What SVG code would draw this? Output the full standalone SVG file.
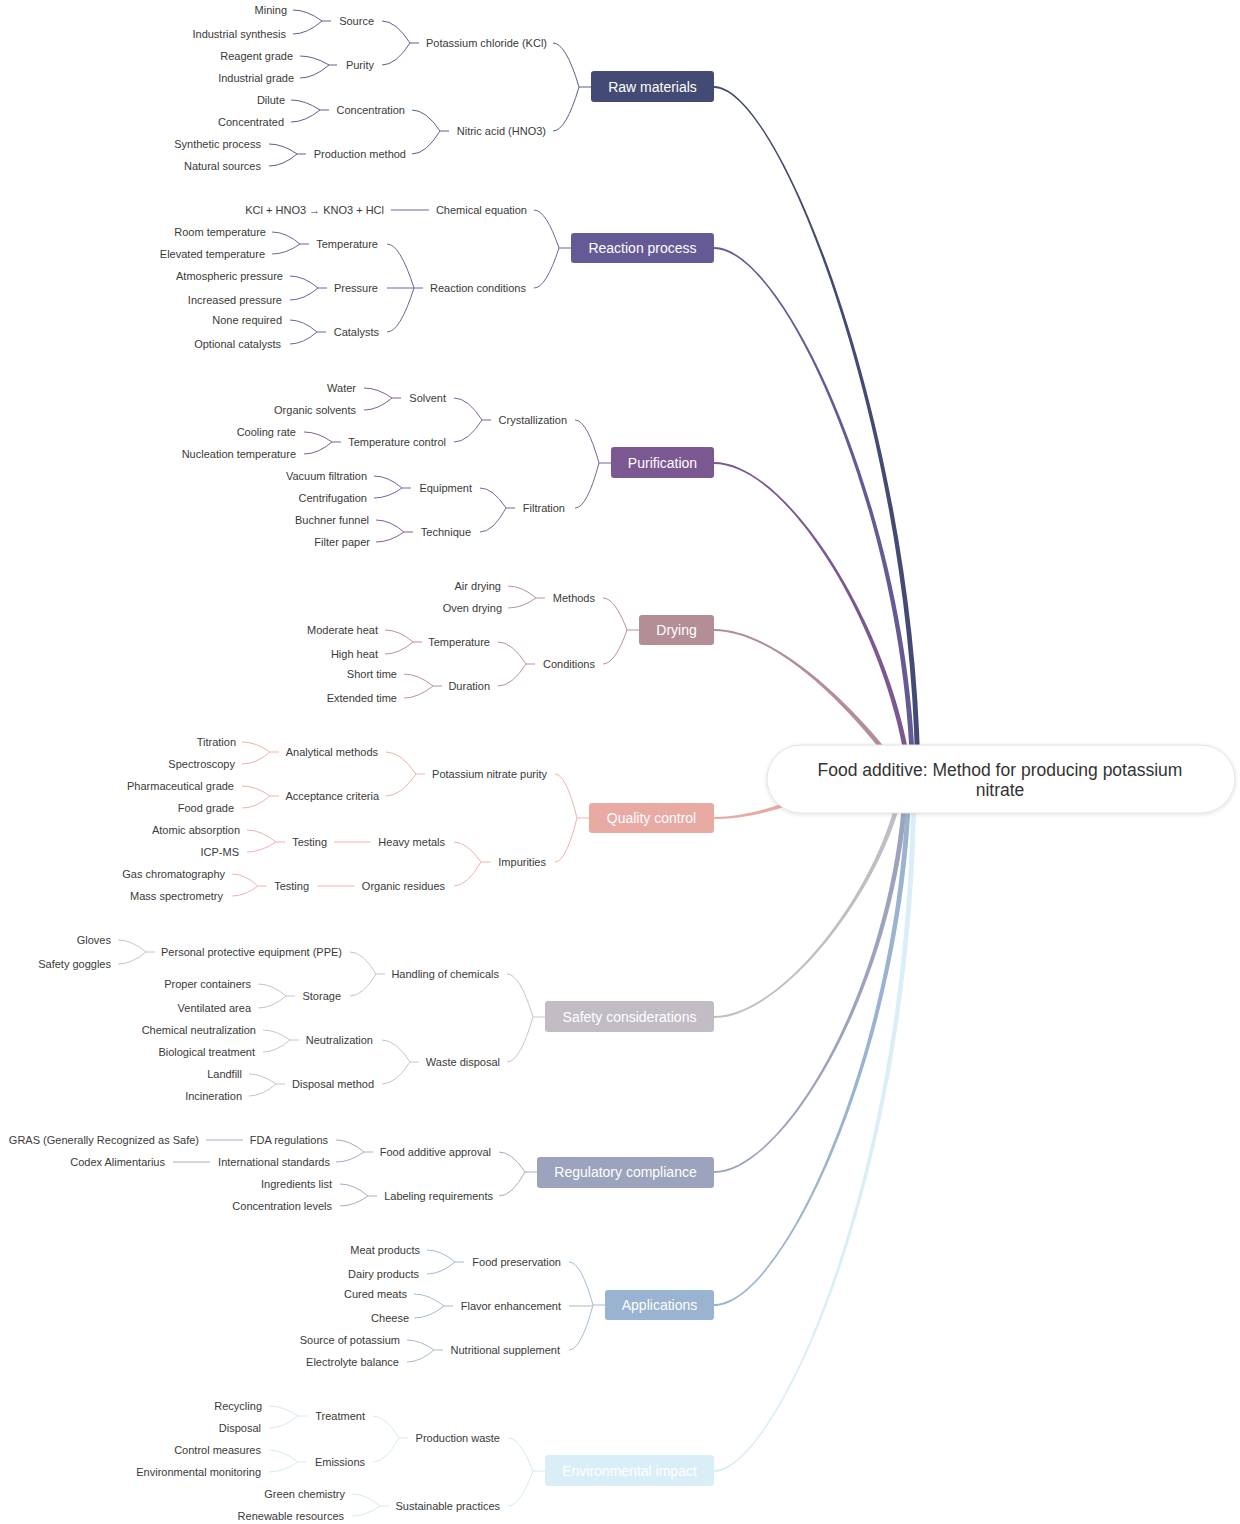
<svg xmlns="http://www.w3.org/2000/svg" width="1240" height="1524" viewBox="0 0 1240 1524">
<defs>
<style>
.t{font-family:"Liberation Sans",Arial,sans-serif;font-size:11px;fill:#3a3a3a;text-anchor:end}
.h{font-family:"Liberation Sans",Arial,sans-serif;font-size:14px;fill:#fff;text-anchor:middle}
.r{font-family:"Liberation Sans",Arial,sans-serif;font-size:17.5px;fill:#333;text-anchor:middle}
.ln path{fill:none;stroke-width:1}
.s1{stroke:#5b6090}.s2{stroke:#6f64a0}.s3{stroke:#80609a}.s4{stroke:#b9939c}.s5{stroke:#f0b3ad}
.s6{stroke:#c8c4cb}.s7{stroke:#a6acc5}.s8{stroke:#a3bbd6}.s9{stroke:#d6eaf4}
</style>
<filter id="sh" x="-10%" y="-30%" width="120%" height="160%">
<feDropShadow dx="0" dy="1" stdDeviation="2" flood-color="#000" flood-opacity="0.12"/>
</filter>
</defs>
<rect width="1240" height="1524" fill="#fff"/>
<g id="connectors">
<g id="root-links">
<path fill="#434a73" d="M714 86C780 86 916.5 433 920.5 779L915.5 779C911.5 433 780 88 714 88Z"/>
<path fill="#655a96" d="M714 247C785 247 910.5 520 915.5 779L910.5 779C905.5 520 785 249 714 249Z"/>
<path fill="#7c5893" d="M714 462C790 462 897.5 640 912.5 779L907.5 779C892.5 640 790 464 714 464Z"/>
<path fill="#b38e97" d="M714 629C780 629 867.5 719 907.5 778L902.5 780C862.5 721 780 631 714 631Z"/>
<path fill="#e9aaa4" d="M714 817C750 817 790 803 830 782L830 788C790 808 750 819 714 819Z"/>
<path fill="#c2bdc5" d="M714 1018C785 1018 890.5 880 905.5 779L900.5 779C885.5 880 785 1016 714 1016Z"/>
<path fill="#9ca3bd" d="M714 1173C785 1173 900.5 980 908.5 779L903.5 779C895.5 980 785 1171 714 1171Z"/>
<path fill="#99b3d0" d="M714 1306C785 1306 906.5 1040 911.5 779L906.5 779C901.5 1040 785 1304 714 1304Z"/>
<path fill="#daeef7" d="M714 1472C775 1472 914.5 1180 916.5 779L911.5 779C909.5 1180 775 1470 714 1470Z"/>
</g>
<g class="ln">
<path class="s1" d="M553 43Q566 43 579 87M553 131Q566 131 579 87M579 87H591"/>
<path class="s1" d="M382 21Q396 21 410 43M382 65Q396 65 410 43M410 43H419"/>
<path class="s1" d="M293 10Q307 10 322 21M293 34Q307 34 322 21M322 21H331"/>
<path class="s1" d="M300 56Q314 56 329 65M300 78Q314 78 329 65M329 65H337"/>
<path class="s1" d="M412 110Q426 110 440 131M412 154Q426 154 440 131M440 131H449"/>
<path class="s1" d="M291 100Q305 100 320 110M291 122Q305 122 320 110M320 110H329"/>
<path class="s1" d="M269 144Q283 144 297 154M269 166Q283 166 297 154M297 154H306"/>

<path class="s2" d="M534 210Q546 210 559 248M534 288Q546 288 559 248M559 248H571"/>
<path class="s2" d="M391 210H429"/>
<path class="s2" d="M387 244Q400 244 414 288M387 288H414M387 332Q400 332 414 288M414 288H423"/>
<path class="s2" d="M272 232Q286 232 300 244M272 254Q286 254 300 244M300 244H309"/>
<path class="s2" d="M290 276Q304 276 318 288M290 300Q304 300 318 288M318 288H327"/>
<path class="s2" d="M290 320Q303 320 317 332M290 344Q303 344 317 332M317 332H326"/>

<path class="s3" d="M575 420Q587 420 599 463M575 508Q587 508 599 463M599 463H611"/>
<path class="s3" d="M454 398Q468 398 482 420M454 442Q468 442 482 420M482 420H491"/>
<path class="s3" d="M364 388Q378 388 392 398M364 410Q378 410 392 398M392 398H401"/>
<path class="s3" d="M304 432Q318 432 332 442M304 454Q318 454 332 442M332 442H341"/>
<path class="s3" d="M480 488Q493 488 506 508M480 532Q493 532 506 508M506 508H515"/>
<path class="s3" d="M374 476Q388 476 402 488M374 498Q388 498 402 488M402 488H411"/>
<path class="s3" d="M376 520Q390 520 404 532M376 542Q390 542 404 532M404 532H413"/>

<path class="s4" d="M603 598Q615 598 627 630M603 664Q615 664 627 630M627 630H639"/>
<path class="s4" d="M508 586Q522 586 536 598M508 608Q522 608 536 598M536 598H545"/>
<path class="s4" d="M498 642Q512 642 526 664M498 686Q512 686 526 664M526 664H535"/>
<path class="s4" d="M385 630Q399 630 413 642M385 654Q399 654 413 642M413 642H422"/>
<path class="s4" d="M404 674Q418 674 433 686M404 698Q418 698 433 686M433 686H442"/>

<path class="s5" d="M555 774Q566 774 577 818M555 862Q566 862 577 818M577 818H589"/>
<path class="s5" d="M386 752Q401 752 416 774M386 796Q401 796 416 774M416 774H425"/>
<path class="s5" d="M242 742Q256 742 270 752M242 764Q256 764 270 752M270 752H279"/>
<path class="s5" d="M242 786Q256 786 270 796M242 808Q256 808 270 796M270 796H279"/>
<path class="s5" d="M454 842Q467 842 481 862M454 886Q467 886 481 862M481 862H491"/>
<path class="s5" d="M334 842H371"/>
<path class="s5" d="M247 830Q261 830 276 842M247 852Q261 852 276 842M276 842H285"/>
<path class="s5" d="M317 886H355"/>
<path class="s5" d="M232 874Q245 874 258 886M232 896Q245 896 258 886M258 886H267"/>

<path class="s6" d="M507 974Q520 974 533 1017M507 1062Q520 1062 533 1017M533 1017H545"/>
<path class="s6" d="M350 952Q363 952 376 974M350 996Q363 996 376 974M376 974H385"/>
<path class="s6" d="M118 940Q132 940 146 952M118 964Q132 964 146 952M146 952H155"/>
<path class="s6" d="M258 984Q272 984 286 996M258 1008Q272 1008 286 996M286 996H295"/>
<path class="s6" d="M382 1040Q396 1040 410 1062M382 1084Q396 1084 410 1062M410 1062H419"/>
<path class="s6" d="M263 1030Q276 1030 290 1040M263 1052Q276 1052 290 1040M290 1040H299"/>
<path class="s6" d="M249 1074Q262 1074 276 1084M249 1096Q262 1096 276 1084M276 1084H285"/>

<path class="s7" d="M499 1152Q512 1152 525 1172M499 1196Q512 1196 525 1172M525 1172H537"/>
<path class="s7" d="M336 1140Q350 1140 364 1152M336 1162Q350 1162 364 1152M364 1152H373"/>
<path class="s7" d="M206 1140H243"/>
<path class="s7" d="M173 1162H210"/>
<path class="s7" d="M340 1184Q354 1184 368 1196M340 1206Q354 1206 368 1196M368 1196H377"/>

<path class="s8" d="M569 1262Q581 1262 593 1305M569 1306H593M569 1350Q581 1350 593 1305M593 1305H605"/>
<path class="s8" d="M427 1250Q441 1250 455 1262M427 1274Q441 1274 455 1262M455 1262H464"/>
<path class="s8" d="M414 1294Q429 1294 444 1306M414 1318Q429 1318 444 1306M444 1306H453"/>
<path class="s8" d="M407 1340Q420 1340 434 1350M407 1362Q420 1362 434 1350M434 1350H443"/>

<path class="s9" d="M508 1438Q520 1438 533 1471M508 1506Q520 1506 533 1471M533 1471H545"/>
<path class="s9" d="M373 1416Q386 1416 399 1438M373 1462Q386 1462 399 1438M399 1438H408"/>
<path class="s9" d="M269 1406Q283 1406 298 1416M269 1428Q283 1428 298 1416M298 1416H307"/>
<path class="s9" d="M269 1450Q283 1450 298 1462M269 1472Q283 1472 298 1462M298 1462H307"/>
<path class="s9" d="M352 1494Q366 1494 380 1506M352 1516Q366 1516 380 1506M380 1506H389"/>
</g>
</g>

<g id="root">
<rect x="767" y="745" width="468" height="68" rx="34" fill="#fff" stroke="#e2e2e2" filter="url(#sh)"/>
<text class="r" x="1000" y="776">Food additive: Method for producing potassium</text>
<text class="r" x="1000" y="796">nitrate</text>
</g>

<g id="n-raw"><rect x="591" y="71" width="123" height="31" rx="3" fill="#434a73"/><text class="h" x="652.5" y="92">Raw materials</text></g>
<g id="n-reaction"><rect x="571" y="233" width="143" height="30" rx="3" fill="#655a96"/><text class="h" x="642.5" y="253">Reaction process</text></g>
<g id="n-purification"><rect x="611" y="447" width="103" height="31" rx="3" fill="#7c5893"/><text class="h" x="662.5" y="468">Purification</text></g>
<g id="n-drying"><rect x="639" y="615" width="75" height="30" rx="3" fill="#b38e97"/><text class="h" x="676.5" y="635">Drying</text></g>
<g id="n-qc"><rect x="589" y="803" width="125" height="30" rx="3" fill="#e9aaa4"/><text class="h" x="651.5" y="823">Quality control</text></g>
<g id="n-safety"><rect x="545" y="1001" width="169" height="31" rx="3" fill="#c2bdc5"/><text class="h" x="629.5" y="1022">Safety considerations</text></g>
<g id="n-regulatory"><rect x="537" y="1157" width="177" height="31" rx="3" fill="#9ca3bd"/><text class="h" x="625.5" y="1177">Regulatory compliance</text></g>
<g id="n-applications"><rect x="605" y="1290" width="109" height="30" rx="3" fill="#99b3d0"/><text class="h" x="659.5" y="1310">Applications</text></g>
<g id="n-environmental"><rect x="545" y="1455" width="169" height="31" rx="3" fill="#daeef7"/><text class="h" x="629.5" y="1476">Environmental impact</text></g>

<g id="n-kcl"><text class="t" x="547" y="47">Potassium chloride (KCl)</text></g>
<g id="n-source"><text class="t" x="374" y="25">Source</text></g>
<g id="n-mining"><text class="t" x="287" y="14">Mining</text></g>
<g id="n-indsyn"><text class="t" x="286" y="38">Industrial synthesis</text></g>
<g id="n-purity"><text class="t" x="374" y="69">Purity</text></g>
<g id="n-reagent"><text class="t" x="293" y="60">Reagent grade</text></g>
<g id="n-indgrade"><text class="t" x="294" y="82">Industrial grade</text></g>
<g id="n-hno3"><text class="t" x="546" y="135">Nitric acid (HNO3)</text></g>
<g id="n-conc"><text class="t" x="405" y="114">Concentration</text></g>
<g id="n-dilute"><text class="t" x="285" y="104">Dilute</text></g>
<g id="n-concentrated"><text class="t" x="284" y="126">Concentrated</text></g>
<g id="n-prodmethod"><text class="t" x="406" y="158">Production method</text></g>
<g id="n-synth"><text class="t" x="261" y="148">Synthetic process</text></g>
<g id="n-natural"><text class="t" x="261" y="170">Natural sources</text></g>

<g id="n-chemeq"><text class="t" x="527" y="214">Chemical equation</text></g>
<g id="n-equation"><text class="t" x="384" y="214">KCl + HNO3 → KNO3 + HCl</text></g>
<g id="n-reactcond"><text class="t" x="526" y="292">Reaction conditions</text></g>
<g id="n-temp"><text class="t" x="378" y="248">Temperature</text></g>
<g id="n-room"><text class="t" x="266" y="236">Room temperature</text></g>
<g id="n-elevated"><text class="t" x="265" y="258">Elevated temperature</text></g>
<g id="n-pressure"><text class="t" x="378" y="292">Pressure</text></g>
<g id="n-atm"><text class="t" x="283" y="280">Atmospheric pressure</text></g>
<g id="n-incp"><text class="t" x="282" y="304">Increased pressure</text></g>
<g id="n-catalysts"><text class="t" x="379" y="336">Catalysts</text></g>
<g id="n-none"><text class="t" x="282" y="324">None required</text></g>
<g id="n-optional"><text class="t" x="281" y="348">Optional catalysts</text></g>

<g id="n-cryst"><text class="t" x="567" y="424">Crystallization</text></g>
<g id="n-solvent"><text class="t" x="446" y="402">Solvent</text></g>
<g id="n-water"><text class="t" x="356" y="392">Water</text></g>
<g id="n-orgsolv"><text class="t" x="356" y="414">Organic solvents</text></g>
<g id="n-tempctrl"><text class="t" x="446" y="446">Temperature control</text></g>
<g id="n-cooling"><text class="t" x="296" y="436">Cooling rate</text></g>
<g id="n-nucleation"><text class="t" x="296" y="458">Nucleation temperature</text></g>
<g id="n-filtration"><text class="t" x="565" y="512">Filtration</text></g>
<g id="n-equipment"><text class="t" x="472" y="492">Equipment</text></g>
<g id="n-vacuum"><text class="t" x="367" y="480">Vacuum filtration</text></g>
<g id="n-centrifugation"><text class="t" x="367" y="502">Centrifugation</text></g>
<g id="n-technique"><text class="t" x="471" y="536">Technique</text></g>
<g id="n-buchner"><text class="t" x="369" y="524">Buchner funnel</text></g>
<g id="n-filterpaper"><text class="t" x="370" y="546">Filter paper</text></g>

<g id="n-methods"><text class="t" x="595" y="602">Methods</text></g>
<g id="n-airdry"><text class="t" x="501" y="590">Air drying</text></g>
<g id="n-ovendry"><text class="t" x="502" y="612">Oven drying</text></g>
<g id="n-conditions"><text class="t" x="595" y="668">Conditions</text></g>
<g id="n-dtemp"><text class="t" x="490" y="646">Temperature</text></g>
<g id="n-moderate"><text class="t" x="378" y="634">Moderate heat</text></g>
<g id="n-high"><text class="t" x="378" y="658">High heat</text></g>
<g id="n-duration"><text class="t" x="490" y="690">Duration</text></g>
<g id="n-short"><text class="t" x="397" y="678">Short time</text></g>
<g id="n-extended"><text class="t" x="397" y="702">Extended time</text></g>

<g id="n-pnp"><text class="t" x="547" y="778">Potassium nitrate purity</text></g>
<g id="n-analytical"><text class="t" x="378" y="756">Analytical methods</text></g>
<g id="n-titration"><text class="t" x="236" y="746">Titration</text></g>
<g id="n-spectroscopy"><text class="t" x="235" y="768">Spectroscopy</text></g>
<g id="n-acceptance"><text class="t" x="379" y="800">Acceptance criteria</text></g>
<g id="n-pharma"><text class="t" x="234" y="790">Pharmaceutical grade</text></g>
<g id="n-foodgrade"><text class="t" x="234" y="812">Food grade</text></g>
<g id="n-impurities"><text class="t" x="546" y="866">Impurities</text></g>
<g id="n-heavy"><text class="t" x="445" y="846">Heavy metals</text></g>
<g id="n-testing1"><text class="t" x="327" y="846">Testing</text></g>
<g id="n-atomic"><text class="t" x="240" y="834">Atomic absorption</text></g>
<g id="n-icp"><text class="t" x="239" y="856">ICP-MS</text></g>
<g id="n-organic"><text class="t" x="445" y="890">Organic residues</text></g>
<g id="n-testing2"><text class="t" x="309" y="890">Testing</text></g>
<g id="n-gc"><text class="t" x="225" y="878">Gas chromatography</text></g>
<g id="n-ms"><text class="t" x="223" y="900">Mass spectrometry</text></g>

<g id="n-handling"><text class="t" x="499" y="978">Handling of chemicals</text></g>
<g id="n-ppe"><text class="t" x="342" y="956">Personal protective equipment (PPE)</text></g>
<g id="n-gloves"><text class="t" x="111" y="944">Gloves</text></g>
<g id="n-goggles"><text class="t" x="111" y="968">Safety goggles</text></g>
<g id="n-storage"><text class="t" x="341" y="1000">Storage</text></g>
<g id="n-containers"><text class="t" x="251" y="988">Proper containers</text></g>
<g id="n-ventilated"><text class="t" x="251" y="1012">Ventilated area</text></g>
<g id="n-waste"><text class="t" x="500" y="1066">Waste disposal</text></g>
<g id="n-neutralization"><text class="t" x="373" y="1044">Neutralization</text></g>
<g id="n-chemneut"><text class="t" x="256" y="1034">Chemical neutralization</text></g>
<g id="n-bio"><text class="t" x="255" y="1056">Biological treatment</text></g>
<g id="n-dispmethod"><text class="t" x="374" y="1088">Disposal method</text></g>
<g id="n-landfill"><text class="t" x="242" y="1078">Landfill</text></g>
<g id="n-incineration"><text class="t" x="242" y="1100">Incineration</text></g>

<g id="n-faa"><text class="t" x="491" y="1156">Food additive approval</text></g>
<g id="n-fda"><text class="t" x="328" y="1144">FDA regulations</text></g>
<g id="n-gras"><text class="t" x="199" y="1144">GRAS (Generally Recognized as Safe)</text></g>
<g id="n-intl"><text class="t" x="330" y="1166">International standards</text></g>
<g id="n-codex"><text class="t" x="165" y="1166">Codex Alimentarius</text></g>
<g id="n-labeling"><text class="t" x="493" y="1200">Labeling requirements</text></g>
<g id="n-ingredients"><text class="t" x="332" y="1188">Ingredients list</text></g>
<g id="n-conclevels"><text class="t" x="332" y="1210">Concentration levels</text></g>

<g id="n-foodpres"><text class="t" x="561" y="1266">Food preservation</text></g>
<g id="n-meat"><text class="t" x="420" y="1254">Meat products</text></g>
<g id="n-dairy"><text class="t" x="419" y="1278">Dairy products</text></g>
<g id="n-flavor"><text class="t" x="561" y="1310">Flavor enhancement</text></g>
<g id="n-cured"><text class="t" x="407" y="1298">Cured meats</text></g>
<g id="n-cheese"><text class="t" x="409" y="1322">Cheese</text></g>
<g id="n-nutritional"><text class="t" x="560" y="1354">Nutritional supplement</text></g>
<g id="n-sourcek"><text class="t" x="400" y="1344">Source of potassium</text></g>
<g id="n-electrolyte"><text class="t" x="399" y="1366">Electrolyte balance</text></g>

<g id="n-prodwaste"><text class="t" x="500" y="1442">Production waste</text></g>
<g id="n-treatment"><text class="t" x="365" y="1420">Treatment</text></g>
<g id="n-recycling"><text class="t" x="262" y="1410">Recycling</text></g>
<g id="n-disposal"><text class="t" x="261" y="1432">Disposal</text></g>
<g id="n-emissions"><text class="t" x="365" y="1466">Emissions</text></g>
<g id="n-control"><text class="t" x="261" y="1454">Control measures</text></g>
<g id="n-envmon"><text class="t" x="261" y="1476">Environmental monitoring</text></g>
<g id="n-sustainable"><text class="t" x="500" y="1510">Sustainable practices</text></g>
<g id="n-green"><text class="t" x="345" y="1498">Green chemistry</text></g>
<g id="n-renewable"><text class="t" x="344" y="1520">Renewable resources</text></g>
</svg>
